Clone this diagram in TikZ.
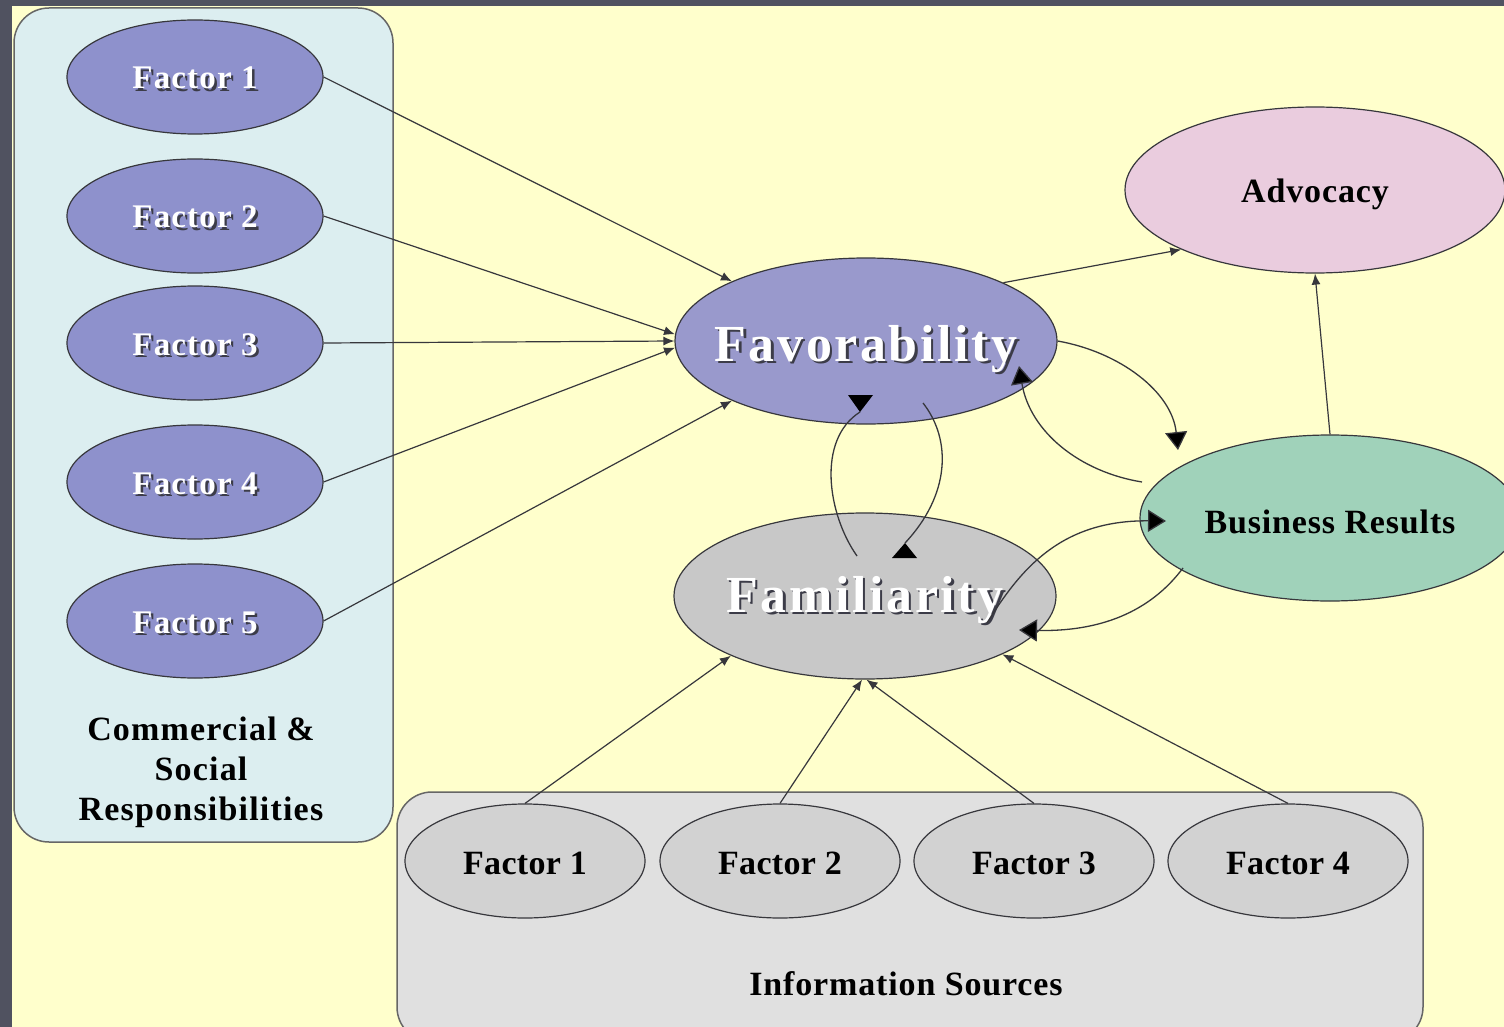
\documentclass[tikz,border=0pt]{standalone}
\usepackage{fontspec}
\setmainfont{Liberation Serif}
\usetikzlibrary{shapes.geometric,arrows.meta}
\definecolor{darkbg}{RGB}{80,82,96}
\definecolor{ylw}{RGB}{255,255,204}
\definecolor{leftboxc}{RGB}{220,238,240}
\definecolor{lfac}{RGB}{142,145,204}
\definecolor{favc}{RGB}{153,153,204}
\definecolor{famc}{RGB}{200,200,200}
\definecolor{advc}{RGB}{234,204,222}
\definecolor{brc}{RGB}{160,210,186}
\definecolor{botboxc}{RGB}{224,224,224}
\definecolor{bfac}{RGB}{210,210,210}
\definecolor{edgec}{RGB}{55,55,60}
\definecolor{shadc}{RGB}{60,60,72}
\newcommand\shtext[1]{\leavevmode\rlap{\kern2.5pt\raisebox{-2.5pt}{\textcolor{shadc}{#1}}}\textcolor{white}{#1}}
% zero-size box, baseline lowered by #1 below the node centre
\newcommand\zb[2]{\makebox[0pt]{\raisebox{-#1}[0pt][0pt]{#2}}}
\tikzset{
  container/.style={draw=gray!80!black, line width=1.5pt, rounded corners=35pt, inner sep=0pt},
  ell/.style={ellipse, draw=edgec, line width=1.2pt, inner sep=0pt},
  lfactor/.style={ell, fill=lfac, minimum width=256pt, minimum height=114pt,
     font=\fontsize{33}{38}\selectfont\bfseries\addfontfeature{LetterSpace=3.5}},
  bfactor/.style={ell, fill=bfac, minimum width=240pt, minimum height=114pt,
     font=\fontsize{34}{38}\selectfont\bfseries\addfontfeature{LetterSpace=1}},
  bigell/.style={ell, minimum width=382pt, minimum height=166pt},
  bigtext/.style={font=\fontsize{52}{60}\selectfont\bfseries\addfontfeature{LetterSpace=5}},
  midtext/.style={font=\fontsize{34}{40}\selectfont\bfseries\addfontfeature{LetterSpace=2.5}},
  conn/.style={draw=edgec, line width=1.2pt, -{Latex[length=11pt,width=9pt]}},
  curv/.style={draw=edgec, line width=1.3pt, -{Triangle[length=18pt,width=22pt,fill=black]}},
  curvplain/.style={draw=edgec, line width=1.3pt},
  tipfill/.style={fill=black},
}
\begin{document}
\begin{tikzpicture}[x=1pt,y=-1pt]
\fill[darkbg] (0,0) rectangle (1504,1027);
\fill[ylw] (12,6) rectangle (1504,1027);
\useasboundingbox (0,0) rectangle (1504,1027);

% containers
\node[container, fill=leftboxc, minimum width=379pt, minimum height=834pt] (csr) at (203.5,425) {};
\node[container, fill=botboxc, minimum width=1026pt, minimum height=250pt] (info) at (910,917) {};

% left factors
\node[lfactor] (l1) at (195,77) {\zb{12pt}{\shtext{Factor 1}}};
\node[lfactor] (l2) at (195,216) {\zb{12pt}{\shtext{Factor 2}}};
\node[lfactor] (l3) at (195,343) {\zb{12pt}{\shtext{Factor 3}}};
\node[lfactor] (l4) at (195,482) {\zb{12pt}{\shtext{Factor 4}}};
\node[lfactor] (l5) at (195,621) {\zb{12pt}{\shtext{Factor 5}}};
\node[align=center, font=\fontsize{34}{40}\selectfont\bfseries\addfontfeature{LetterSpace=3.5}] (csrlabel) at (201,772) {Commercial \&\\Social\\Responsibilities};

% bottom factors
\node[bfactor] (b1) at (525,861) {\zb{13pt}{Factor 1}};
\node[bfactor] (b2) at (780,861) {\zb{13pt}{Factor 2}};
\node[bfactor] (b3) at (1034,861) {\zb{13pt}{Factor 3}};
\node[bfactor] (b4) at (1288,861) {\zb{13pt}{Factor 4}};
\node[font=\fontsize{34}{38}\selectfont\bfseries\addfontfeature{LetterSpace=2.5}] (infolabel) at (906,984) {Information Sources};

% central nodes
\node[bigell, fill=favc, bigtext] (fav) at (866,341) {\zb{20pt}{\shtext{Favorability}}};
\node[bigell, fill=famc, bigtext] (fam) at (865,596) {\zb{16pt}{\shtext{Familiarity}}};
\node[bigell, fill=advc, minimum width=380pt, midtext] (adv) at (1315,190) {\zb{13pt}{Advocacy}};
\node[bigell, fill=brc, minimum width=380pt, midtext] (br) at (1330,518) {\zb{15pt}{Business Results}};

% straight connectors
\draw[conn] (l1.east) -- (fav.156);
\draw[conn] (l2.east) -- (fav.178);
\draw[conn] (l3.east) -- (fav.180);
\draw[conn] (l4.east) -- (fav.182);
\draw[conn] (l5.east) -- (fav.204);
\draw[conn] (b1.north) -- (fam.204);
\draw[conn] (b2.north) -- (fam.268);
\draw[conn] (b3.north) -- (fam.271);
\draw[conn] (b4.north) -- (fam.337);
\draw[conn] (fav.23) -- (adv.204);
\draw[conn] (br.north) -- (adv.south);

% curved connectors
\coordinate (famin1) at (857,556);
\coordinate (favin1) at (860,412);
\coordinate (favin2) at (923,403);
\coordinate (famin2) at (905,543);
\coordinate (famin3) at (987,623);
\coordinate (brin1) at (1142,482);
\coordinate (brin2) at (1183,568);
\draw[curvplain] (famin1) .. controls (828,515) and (816,440) .. (favin1);
\fill[tipfill] (848,395) -- (873,395) -- (favin1) -- cycle;
\draw[curvplain] (favin2) .. controls (952,440) and (950,495) .. (famin2);
\fill[tipfill] (892,558) -- (917,558) -- (famin2) -- cycle;
\draw[curv] (fav.east) .. controls (1120,352) and (1172,392) .. (1178,450);
\draw[curv] (brin1) .. controls (1080,472) and (1030,432) .. (1019,366);
\draw[curv] (famin3) .. controls (1020,570) and (1060,520) .. (1166,521);
\draw[curv] (brin2) .. controls (1150,612) and (1100,632) .. (1019,630);
\end{tikzpicture}
\end{document}
